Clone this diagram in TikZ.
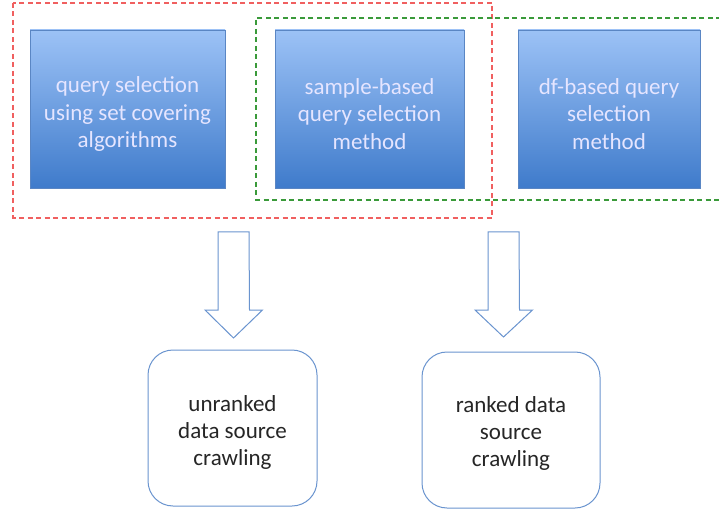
\documentclass[tikz,border=0pt]{standalone}
\usepackage{fontspec}
\setmainfont{Carlito}
\usetikzlibrary{shadows}
\definecolor{gtop}{HTML}{9CC2F6}
\definecolor{gbot}{HTML}{3F7BCB}
\definecolor{bedge}{HTML}{5A86C4}
\definecolor{aedge}{HTML}{6A94CF}
\definecolor{redd}{HTML}{F06060}
\definecolor{greend}{HTML}{3A9A3A}
\tikzset{
  method/.style={draw=bedge, line width=0.8pt, top color=gtop, bottom color=gbot,
    minimum width=#1, minimum height=158pt, inner sep=0pt,
    drop shadow={shadow xshift=1pt, shadow yshift=-1.5pt, opacity=0.25}},
  methodtext/.style={text=white!90!blue, align=center, inner sep=0pt,
    font=\fontsize{23pt}{27.5pt}\selectfont},
  result/.style={draw=aedge, line width=1pt, rounded corners=25pt, fill=white,
    minimum width=#1, minimum height=156pt, inner sep=0pt},
  resulttext/.style={text=black!85, align=center, inner sep=0pt,
    font=\fontsize{23pt}{27pt}\selectfont},
  fatarrow/.style={draw=aedge, line width=1pt, fill=white, line join=miter},
  redbox/.style={draw=redd, line width=1.3pt, dash pattern=on 5pt off 3.5pt},
  greenbox/.style={draw=greend, line width=1.1pt, dash pattern=on 5pt off 3.5pt},
}
\begin{document}
\begin{tikzpicture}[x=1pt,y=-1pt]
\useasboundingbox (0,0) rectangle (719,510);
\node[method=195pt] (m1) at (127.5,109) {};
\node[method=189pt] (m2) at (369.5,109) {};
\node[method=182pt] (m3) at (609,109) {};
\node[methodtext] (t1) at ([yshift=-5pt]m1.center) {query selection\\using set covering\\algorithms};
\node[methodtext] (t2) at ([yshift=-5pt]m2.center) {sample-based\\query selection\\method};
\node[methodtext] (t3) at ([yshift=-5pt]m3.center) {df-based query\\selection\\method};
\draw[redbox] (13,3) rectangle (492,218);
\draw[greenbox] (721,18) -- (256,18) -- (256,200) -- (721,200);
\node[result=169pt] (r1) at (232.5,428) {};
\node[result=178pt] (r2) at (511,430) {};
\node[resulttext] (u1) at ([yshift=-4pt]r1.center) {unranked\\data source\\crawling};
\node[resulttext] (u2) at ([yshift=-3pt]r2.center) {ranked data\\source\\crawling};
\coordinate (a1) at (233.5,232);
\coordinate (a2) at (503.5,232);
\draw[fatarrow] ([xshift=-15.5pt]a1) -- ++(0,78) -- ++(-13,0) -- (233.5,338) -- (262.5,310) -- ++(-13,0) -- ([xshift=15.5pt]a1) -- cycle;
\draw[fatarrow] ([xshift=-15.5pt]a2) -- ++(0,78) -- ++(-13,0) -- (503.5,337) -- (532.5,310) -- ++(-13,0) -- ([xshift=15.5pt]a2) -- cycle;
\end{tikzpicture}
\end{document}
